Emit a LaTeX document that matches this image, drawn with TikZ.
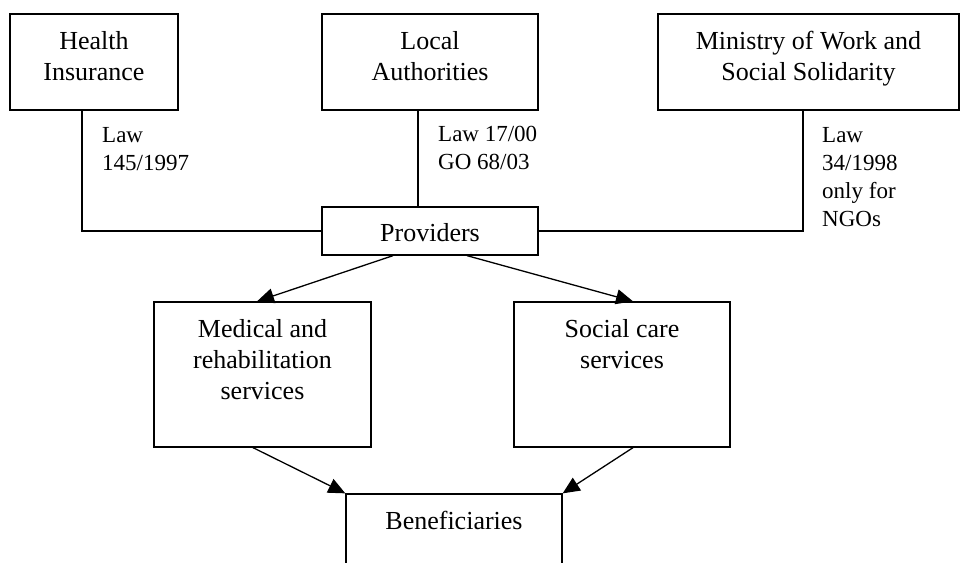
\documentclass[tikz,border=0pt]{standalone}
\usepackage{fontspec}
\setmainfont{Liberation Serif}
\usetikzlibrary{arrows.meta}
\begin{document}
\begin{tikzpicture}[x=1pt,y=-1pt,
  box/.style={draw, line width=1.3pt, inner sep=0pt},
  boxtext/.style={anchor=north, align=center, inner sep=0pt, font=\fontsize{26}{31}\selectfont},
  lawtext/.style={anchor=north west, align=left, inner sep=0pt, font=\fontsize{23}{28}\selectfont},
  conn/.style={line width=1.3pt},
  arr/.style={line width=1.3pt, -{Triangle[length=17pt,width=15pt]}}
]
\useasboundingbox (0,0) rectangle (960,562);
% boxes
\node[box, minimum width=168pt, minimum height=96pt] (HI) at (94,62) {};
\node[box, minimum width=216pt, minimum height=96pt] (LA) at (430,62) {};
\node[box, minimum width=301pt, minimum height=96pt] (MW) at (808.5,62) {};
\node[box, minimum width=216pt, minimum height=48pt] (PR) at (430,231) {};
\node[box, minimum width=217pt, minimum height=145pt] (MR) at (262.5,374.5) {};
\node[box, minimum width=216pt, minimum height=145pt] (SC) at (622,374.5) {};
\node[box, minimum width=216pt, minimum height=100pt] (BE) at (454,544) {};
% box texts
\node[boxtext] (HIt) at ([yshift=-18pt]HI.north) {Health\\Insurance};
\node[boxtext] (LAt) at ([yshift=-18pt]LA.north) {Local\\Authorities};
\node[boxtext] (MWt) at ([yshift=-18pt]MW.north) {Ministry of Work and\\Social Solidarity};
\node[boxtext] (PRt) at ([yshift=-17pt]PR.north) {Providers};
\node[boxtext] (MRt) at ([yshift=-17.5pt]MR.north) {Medical and\\rehabilitation\\services};
\node[boxtext] (SCt) at ([yshift=-18pt]SC.north) {Social care\\services};
\node[boxtext] (BEt) at ([yshift=-18pt]BE.north) {Beneficiaries};
% connectors
\draw[conn] ([xshift=-12pt]HI.south) |- (PR.west);
\draw[conn] ([xshift=-12pt]LA.south) -- ([xshift=-12pt]LA.south |- PR.north);
\draw[conn] ([xshift=-5.5pt]MW.south) |- (PR.east);
% arrows
\draw[arr] ([xshift=-37pt]PR.south) -- ([xshift=-5.5pt]MR.north);
\draw[arr] ([xshift=37pt]PR.south) -- ([xshift=11pt]SC.north);
\draw[arr] ([xshift=-9.5pt]MR.south) -- (BE.north west);
\draw[arr] ([xshift=11pt]SC.south) -- (BE.north east);
% law labels
\node[lawtext] (L1) at (102,127) {Law\\145/1997};
\node[lawtext] (L2) at (438,126) {Law 17/00\\GO 68/03};
\node[lawtext] (L3) at (822,127) {Law\\34/1998\\only for\\NGOs};
\end{tikzpicture}
\end{document}
